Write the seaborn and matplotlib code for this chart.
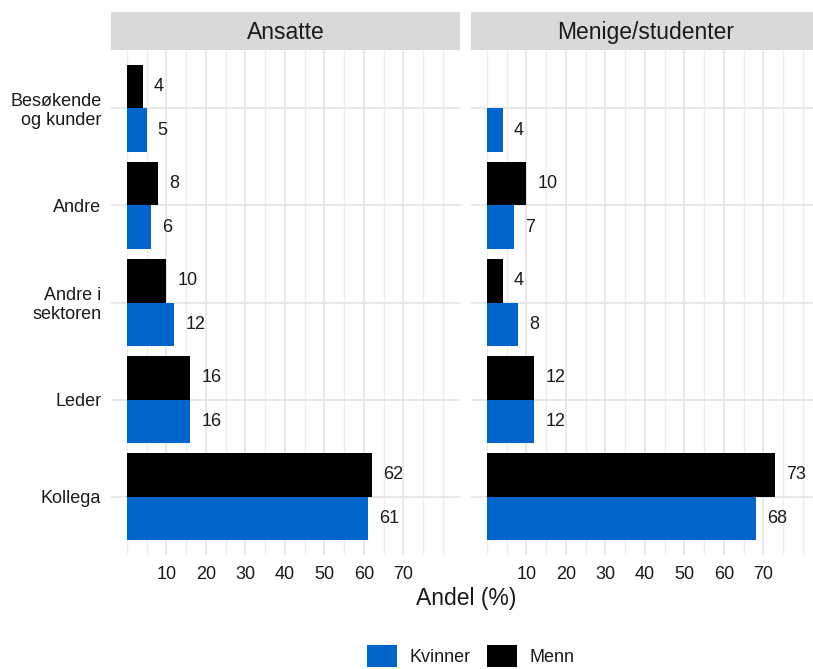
import matplotlib
matplotlib.use("Agg")
import matplotlib.pyplot as plt
import seaborn as sns
import pandas as pd
import numpy as np
from matplotlib.patches import Patch
from matplotlib.ticker import FixedLocator

categories = ["Besøkende\nog kunder", "Andre", "Andre i\nsektoren", "Leder", "Kollega"]
panels = ["Ansatte", "Menige/studenter"]
ansatte_menn = [4, 8, 10, 16, 62]
ansatte_kvinner = [5, 6, 12, 16, 61]
menige_menn = [np.nan, 10, 4, 12, 73]
menige_kvinner = [4, 7, 8, 12, 68]
x_ticks = [10, 20, 30, 40, 50, 60, 70]

rows = []
for panel, menn, kvinner in [(panels[0], ansatte_menn, ansatte_kvinner),
                             (panels[1], menige_menn, menige_kvinner)]:
    for c, m, k in zip(categories, menn, kvinner):
        if not np.isnan(m):
            rows.append((panel, c, "Menn", m))
        if not np.isnan(k):
            rows.append((panel, c, "Kvinner", k))
df = pd.DataFrame(rows, columns=["Gruppe", "Kategori", "Kjønn", "Andel"])

sns.set_theme(style="white")
plt.rcParams["font.family"] = ["Liberation Sans", "DejaVu Sans"]

BLUE = "#0066CC"
palette = {"Menn": "#000000", "Kvinner": BLUE}
TXT = "#1a1a1a"

W, H = 813, 669
fig = plt.figure(figsize=(W / 100, H / 100), dpi=100)

panel_left = [111, 471]
pw, ph = 349, 505
pbottom = H - 555

for i, panel in enumerate(panels):
    ax = fig.add_axes([panel_left[i] / W, pbottom / H, pw / W, ph / H])
    sub = df[df["Gruppe"] == panel]
    sns.barplot(data=sub, x="Andel", y="Kategori", hue="Kjønn",
                hue_order=["Menn", "Kvinner"], order=categories,
                palette=palette, width=0.9, orient="h", ax=ax,
                legend=False, errorbar=None, linewidth=0, saturation=1)
    for cont in ax.containers:
        ax.bar_label(cont, fmt="%.0f", padding=8, fontsize=13, color=TXT)
    ax.set_xlim(-4, 84.3)
    ax.set_ylim(4.6, -0.6)
    ax.xaxis.set_major_locator(FixedLocator(x_ticks))
    ax.xaxis.set_minor_locator(FixedLocator([0, 5, 15, 25, 35, 45, 55, 65, 75, 80]))
    ax.grid(True, which="major", axis="both", color="#E6E6E6", linewidth=1.3)
    ax.grid(True, which="minor", axis="x", color="#EDEDED", linewidth=1.0)
    ax.set_axisbelow(True)
    for s in ax.spines.values():
        s.set_visible(False)
    ax.tick_params(axis="both", length=0, labelsize=13, labelcolor=TXT)
    ax.tick_params(axis="x", pad=8)
    ax.tick_params(axis="y", pad=7)
    ax.set_xlabel("")
    ax.set_ylabel("")
    if i == 1:
        ax.set_yticklabels([])
    else:
        for lab in ax.get_yticklabels():
            lab.set_horizontalalignment("right")
            lab.set_multialignment("right")
            lab.set_linespacing(1.1)

    sax = fig.add_axes([panel_left[i] / W, (H - 50) / H, pw / W, 38 / H])
    sax.set_facecolor("#D9D9D9")
    sax.set_xticks([])
    sax.set_yticks([])
    for s in sax.spines.values():
        s.set_visible(False)
    sax.text(0.5, 0.47, panel, ha="center", va="center", fontsize=16.5, color=TXT,
             transform=sax.transAxes)

fig.text(466 / W, 1 - 598 / H, "Andel (%)", ha="center", va="center", fontsize=16.5, color=TXT)

handles = [Patch(facecolor=BLUE, edgecolor="none", label="Kvinner"),
           Patch(facecolor="#000000", edgecolor="none", label="Menn")]
fig.legend(handles=handles, loc="center", bbox_to_anchor=(471 / W, 1 - 656 / H),
           ncol=2, frameon=False, fontsize=13, handlelength=1.65, handleheight=1.5,
           handletextpad=0.7, columnspacing=0.9, labelcolor=TXT)

fig.savefig("out.png", dpi=100)
